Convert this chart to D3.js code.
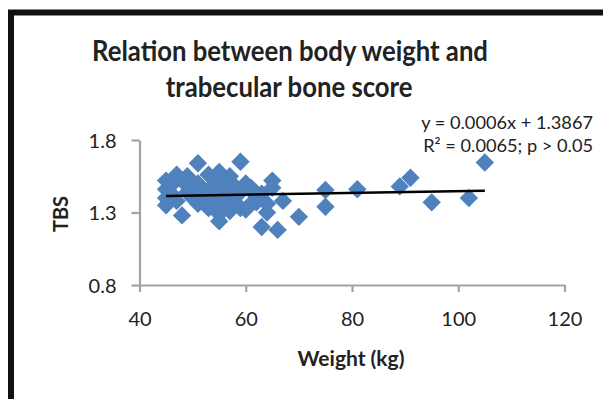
<!DOCTYPE html>
<html>
<head>
<meta charset="utf-8">
<script src="https://cdn.jsdelivr.net/npm/d3@7/dist/d3.min.js"></script>
<style>
  html, body { margin: 0; padding: 0; background: #fff; }
  svg { display: block; }
  text { font-family: Lato, "Open Sans", "DejaVu Sans", sans-serif; fill: #222; }
</style>
</head>
<body>
<svg id="chart" width="603" height="399"></svg>
<script>
// Body weight (kg) and trabecular bone score per subject
const weightKg = [45, 45, 45, 45, 46, 46, 47, 47, 48, 48, 49, 49, 50, 50, 51, 51, 51,
  52, 52, 53, 53, 53, 54, 54, 55, 55, 55, 55, 56, 56, 56, 57, 57, 58, 58, 58,
  59, 59, 59, 60, 60, 61, 61, 62, 62, 63, 63, 64, 64, 65, 65, 66, 67, 70,
  75, 75, 81, 89, 91, 95, 102, 105];
const tbsScore = [1.52, 1.46, 1.40, 1.35, 1.49, 1.43, 1.56, 1.38, 1.28, 1.52, 1.55, 1.44,
  1.47, 1.40, 1.64, 1.50, 1.36, 1.45, 1.41, 1.56, 1.38, 1.33, 1.49, 1.43,
  1.58, 1.35, 1.29, 1.24, 1.53, 1.46, 1.40, 1.55, 1.31, 1.48, 1.42, 1.37,
  1.65, 1.44, 1.33, 1.50, 1.32, 1.47, 1.36, 1.41, 1.37, 1.20, 1.43, 1.36, 1.30,
  1.52, 1.47, 1.18, 1.38, 1.27, 1.455, 1.34, 1.46, 1.48, 1.54, 1.37, 1.40, 1.645];

// Linear trend fitted to the data
const trendSlope = 0.0006;
const trendIntercept = 1.3867;

const xTicks = [40, 60, 80, 100, 120];
const yTicks = [0.8, 1.3, 1.8];

const titleLines = ["Relation between body weight and", "trabecular bone score"];
const equationLines = ["y = 0.0006x + 1.3867", "R\u00b2 = 0.0065; p > 0.05"];
const xTitle = "Weight (kg)";
const yTitle = "TBS";

const svg = d3.select("#chart");
const blue = "#4f81bd";
const axisGrey = "#a3a3a3";

// Chart frame
svg.append("rect")
  .attr("x", 11).attr("y", 12.5)
  .attr("width", 620).attr("height", 420)
  .attr("fill", "#fff").attr("stroke", "#111").attr("stroke-width", 6);

const x = d3.scaleLinear().domain([40, 120]).range([139.5, 564.5]);
const y = d3.scaleLinear().domain([0.8, 1.8]).range([285, 140]);

// Shrinks or grows a text's font size so it spans the given width
function fitWidth(sel, width) {
  sel.each(function () {
    const fs = parseFloat(this.getAttribute("font-size"));
    const w = this.getComputedTextLength();
    this.setAttribute("font-size", (fs * width / w).toFixed(2));
  });
}

// Title, set slightly condensed
const condense = 0.9;
const title = svg.append("g").attr("transform", `translate(290,0) scale(${condense},1)`);
const t1 = title.append("text").attr("x", 0).attr("y", 61)
  .attr("text-anchor", "middle").attr("font-weight", 700).attr("font-size", 27)
  .text(titleLines[0]);
fitWidth(t1, 396 / condense);
title.append("text").attr("x", -1).attr("y", 97)
  .attr("text-anchor", "middle").attr("font-weight", 700)
  .attr("font-size", t1.attr("font-size"))
  .text(titleLines[1]);

// Axes
const xAxis = svg.append("g").attr("transform", `translate(0,${y(0.8)})`)
  .call(d3.axisBottom(x).tickValues(xTicks).tickSize(7).tickSizeOuter(0).tickFormat(d3.format("d")));
const yAxis = svg.append("g").attr("transform", `translate(${x(40)},0)`)
  .call(d3.axisLeft(y).tickValues(yTicks).tickSize(8).tickSizeOuter(0).tickFormat(d3.format(".1f")));

[xAxis, yAxis].forEach(g => {
  g.select(".domain").attr("stroke", axisGrey).attr("stroke-width", 2.2);
  g.selectAll(".tick line").attr("stroke", axisGrey).attr("stroke-width", 2.2);
  g.selectAll(".tick text").attr("fill", "#222").attr("font-size", 20)
    .style("font-family", "Lato, 'Open Sans', sans-serif");
});
xAxis.selectAll(".tick text").attr("y", 27).attr("dy", "0.72em");
yAxis.selectAll(".tick text").attr("x", -23).attr("dy", "0.36em");

// Axis titles
svg.append("text").attr("x", 351).attr("y", 366)
  .attr("text-anchor", "middle").attr("font-weight", 700).attr("font-size", 21)
  .text(xTitle);
svg.append("text").attr("transform", "translate(68,214) rotate(-90)")
  .attr("text-anchor", "middle").attr("font-weight", 700).attr("font-size", 20)
  .text(yTitle);

// Scatter points as diamonds
const points = weightKg.map((w, i) => ({ w, t: tbsScore[i] }));
const diamond = d3.symbol().type(d3.symbolDiamond2).size(215);
svg.append("g").selectAll("path").data(points).join("path")
  .attr("d", diamond)
  .attr("transform", d => `translate(${x(d.w)},${y(d.t)})`)
  .attr("fill", blue);

// Trend line across the observed weight range
const wExtent = d3.extent(weightKg);
svg.append("line")
  .attr("x1", x(wExtent[0])).attr("y1", y(trendSlope * wExtent[0] + trendIntercept))
  .attr("x2", x(wExtent[1])).attr("y2", y(trendSlope * wExtent[1] + trendIntercept))
  .attr("stroke", "#000").attr("stroke-width", 2.6);

// Equation label
const eq = svg.append("g");
const eq2 = eq.append("text").attr("x", 593).attr("y", 152)
  .attr("text-anchor", "end").attr("font-size", 16).text(equationLines[1]);
fitWidth(eq2, 170);
eq.append("text").attr("x", 593).attr("y", 129)
  .attr("text-anchor", "end").attr("font-size", eq2.attr("font-size")).text(equationLines[0]);
</script>
</body>
</html>
